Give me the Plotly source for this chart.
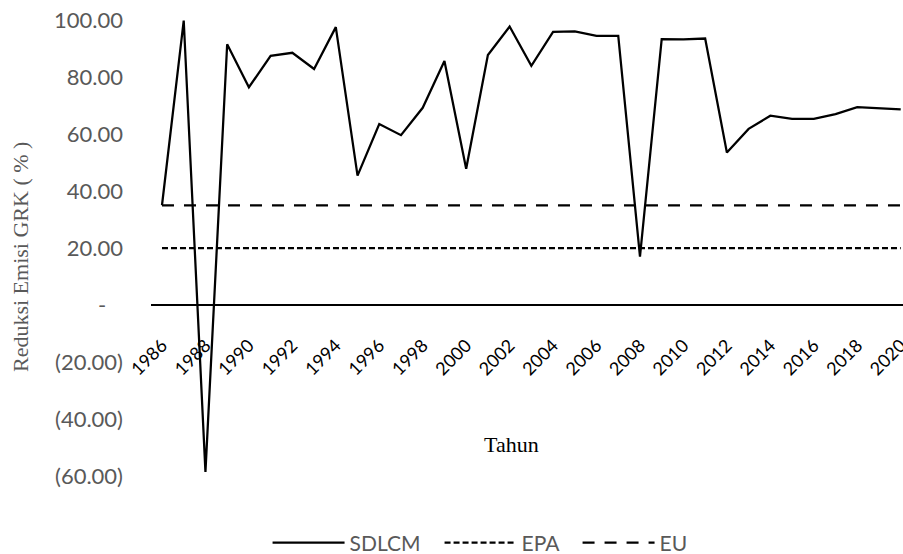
import plotly.graph_objects as go

years = list(range(1986, 2021))
sdlcm = [35.0, 99.8, -58.6, 91.5, 76.4, 87.4, 88.5, 82.8, 97.5, 45.4,
         63.5, 59.6, 69.2, 85.6, 47.8, 87.7, 97.7, 83.9, 95.8, 96.0,
         94.4, 94.4, 17.0, 93.3, 93.2, 93.5, 53.5, 61.8, 66.4, 65.3,
         65.3, 67.0, 69.4, 69.1, 68.6]
epa = [20.0] * len(years)
eu = [35.0] * len(years)

y_ticks = [-60, -40, -20, 0, 20, 40, 60, 80, 100]
y_tick_text = ["(60.00)", "(40.00)", "(20.00)", "-\u00a0\u00a0\u00a0", "20.00", "40.00", "60.00", "80.00", "100.00"]
x_ticks = list(range(1986, 2021, 2))

y_min, y_max = -60, 100

fig = go.Figure()
fig.add_trace(go.Scatter(x=years, y=sdlcm, mode="lines", name="SDLCM", legendwidth=85,
                         line=dict(color="black", width=2.25)))
fig.add_trace(go.Scatter(x=years, y=epa, mode="lines", name="EPA", legendwidth=51,
                         line=dict(color="black", width=2.25, dash="6px,3px")))
fig.add_trace(go.Scatter(x=years, y=eu, mode="lines", name="EU",
                         line=dict(color="black", width=2.25, dash="12px,10px")))

zero_pos = (0 - y_min) / (y_max - y_min)

fig.update_layout(
    width=903, height=554,
    margin=dict(l=151, r=0, t=20, b=78, autoexpand=False),
    plot_bgcolor="white", paper_bgcolor="white",
    showlegend=True,
    legend=dict(orientation="h", x=0.155, xanchor="left", y=-0.147, yanchor="middle",
                font=dict(family="Lato", size=21, color="#595959"),
                itemwidth=72, traceorder="normal"),
    xaxis=dict(range=[1985.494, 2020.106], tickvals=x_ticks, tickformat="d",
               tickangle=-45, showgrid=False, zeroline=False,
               showline=True, linecolor="black", linewidth=2,
               anchor="free", position=zero_pos, automargin=False,
               ticklabelstandoff=22, ticklabeloverflow="allow",
               tickfont=dict(family="Lato", size=18, color="black"),
               ticks=""),
    yaxis=dict(range=[y_min, y_max], tickvals=y_ticks, ticktext=y_tick_text,
               showgrid=False, zeroline=False, showline=False, ticks="",
               ticklabelstandoff=27, automargin=False,
               tickfont=dict(family="Lato", size=22, color="#595959")),
    annotations=[
        dict(text="Tahun", xref="paper", yref="paper", x=0.480, y=0.068,
             xanchor="center", yanchor="middle", showarrow=False,
             font=dict(family="Liberation Serif", size=22, color="black")),
        dict(text="Reduksi Emisi GRK ( % )", xref="paper", yref="paper",
             x=(20 - 151) / 752, y=(476 - 257) / 456, textangle=-90,
             xanchor="center", yanchor="middle", showarrow=False,
             font=dict(family="Liberation Serif", size=22, color="#595959")),
    ],
)

fig.write_html("out.html", config={"displayModeBar": False},
               post_script="document.body.style.margin='0';document.body.style.overflow='hidden';")
